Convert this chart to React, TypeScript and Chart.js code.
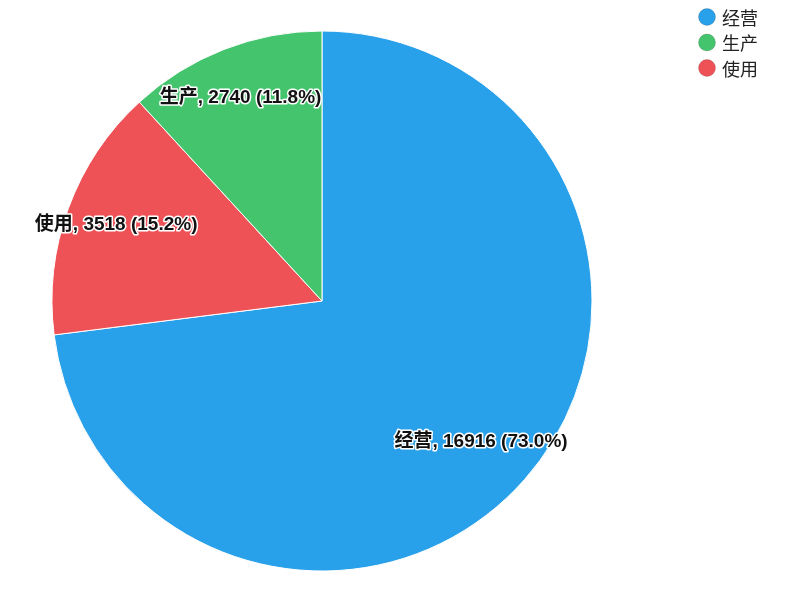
import React, { useEffect, useRef } from "react";
import { Chart, registerables } from "chart.js";

Chart.register(...registerables);

// Slice order (clockwise from 12 o'clock)
const categories = ["经营", "使用", "生产"];
const values = [16916, 3518, 2740];
const colors = ["#29a0ea", "#ef5256", "#44c46c"];
// Legend order as shown in the reference
const legendOrder = ["经营", "生产", "使用"];

const sliceLabelPlugin = {
  id: "sliceLabels",
  afterDatasetsDraw(chart: any) {
    const ctx = chart.ctx;
    const meta = chart.getDatasetMeta(0);
    const data = chart.data.datasets[0].data as number[];
    const total = data.reduce((a, b) => a + b, 0);
    ctx.save();
    ctx.font = 'bold 19px "Liberation Sans", "Noto Sans CJK SC", sans-serif';
    ctx.textAlign = "center";
    ctx.textBaseline = "middle";
    ctx.lineJoin = "round";
    meta.data.forEach((arc: any, i: number) => {
      const { startAngle, endAngle, x, y, outerRadius } = arc.getProps(
        ["startAngle", "endAngle", "x", "y", "outerRadius"],
        true
      );
      const mid = (startAngle + endAngle) / 2;
      const r = outerRadius * 0.8;
      const px = x + Math.cos(mid) * r - 3;
      const py = y + Math.sin(mid) * r - 2;
      const pct = ((data[i] / total) * 100).toFixed(1);
      const text = `${chart.data.labels[i]}, ${data[i]} (${pct}%)`;
      ctx.strokeStyle = "#ffffff";
      ctx.lineWidth = 3;
      ctx.strokeText(text, px, py);
      ctx.fillStyle = "#111111";
      ctx.fillText(text, px, py);
    });
    ctx.restore();
  },
};

const legendPlugin = {
  id: "customLegend",
  afterDraw(chart: any) {
    const ctx = chart.ctx;
    const labels = chart.data.labels as string[];
    const bg = chart.data.datasets[0].backgroundColor as string[];
    ctx.save();
    ctx.font = '18px "Noto Sans CJK SC", sans-serif';
    ctx.textBaseline = "middle";
    ctx.textAlign = "left";
    legendOrder.forEach((name, k) => {
      const idx = labels.indexOf(name);
      const cy = 9 + k * 25.5;
      const cx = 699;
      ctx.beginPath();
      ctx.arc(cx, cy, 8.5, 0, Math.PI * 2);
      ctx.fillStyle = bg[idx];
      ctx.fill();
      ctx.lineWidth = 1;
      ctx.strokeStyle = "rgba(0,0,0,0.15)";
      ctx.stroke();
      ctx.fillStyle = "#222222";
      ctx.fillText(name, 714, cy + 1);
    });
    ctx.restore();
  },
};

export default function App() {
  const ref = useRef<HTMLCanvasElement | null>(null);
  useEffect(() => {
    if (!ref.current) return;
    const chart = new Chart(ref.current, {
      type: "pie",
      data: {
        labels: categories,
        datasets: [
          {
            data: values,
            backgroundColor: colors,
            borderColor: "#ffffff",
            borderWidth: 1,
          },
        ],
      },
      options: {
        responsive: false,
        animation: false,
        radius: 270,
        layout: { padding: { left: 0, right: 156, top: 10, bottom: 0 } },
        plugins: {
          legend: { display: false },
          tooltip: { enabled: false },
        },
      } as any,
      plugins: [sliceLabelPlugin, legendPlugin],
    });
    return () => chart.destroy();
  }, []);
  return (
    <div style={{ width: 784, height: 576 }}>
      <canvas ref={ref} width={784} height={576} />
    </div>
  );
}
